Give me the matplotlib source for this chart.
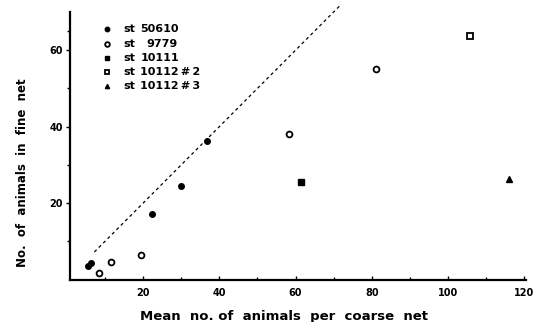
import numpy as np
import matplotlib.pyplot as plt

# station data: mean no. per coarse net (x) vs no. in fine net (y)
st50610_x = [5.6, 6.4, 22.4, 30.0, 36.8]
st50610_y = [3.6, 4.4, 17.2, 24.4, 36.2]
st9779_x = [8.5, 11.5, 19.4, 58.4, 81.1]
st9779_y = [1.8, 4.5, 6.4, 38.2, 55.0]
st10111_x = [61.4]
st10111_y = [25.4]
st10112_2_x = [105.8]
st10112_2_y = [63.8]
st10112_3_x = [116.1]
st10112_3_y = [26.3]

line_x = [7.2, 71.5]  # 1:1 reference line

legend_names = ["50610", "9779", "10111", "10112\u2009#\u20092", "10112\u2009#\u20093"]

plt.rcParams["font.family"] = ["DejaVu Sans"]
plt.rcParams["font.weight"] = "bold"

fig = plt.figure(figsize=(5.42, 3.22), dpi=100)
ax = fig.add_axes([70 / 542, 1 - 279.5 / 322, 456 / 542, 267.5 / 322])

series = [
    (st50610_x, st50610_y, dict(marker="o", mfc="black", mec="black", ms=4.0)),
    (st9779_x, st9779_y, dict(marker="o", mfc="white", mec="black", mew=1.3, ms=4.2)),
    (st10111_x, st10111_y, dict(marker="s", mfc="black", mec="black", ms=3.8)),
    (st10112_2_x, st10112_2_y, dict(marker="s", mfc="white", mec="black", mew=1.3, ms=3.8)),
    (st10112_3_x, st10112_3_y, dict(marker="^", mfc="black", mec="black", ms=3.8)),
]
for xs, ys, style in series:
    ax.plot(xs, ys, ls="none", **style)

ax.plot(line_x, line_x, color="black", ls=(0, (2.5, 2.5)), lw=0.9, clip_on=False)

# hand-drawn style legend
for i, ((xs, ys, style), name) in enumerate(zip(series, legend_names)):
    yy = 0.935 - i * 0.053
    st = dict(style, ms=style["ms"] * 0.8)
    ax.plot([0.082], [yy], transform=ax.transAxes, ls="none", clip_on=False, **st)
    ax.text(0.118, yy, "st", transform=ax.transAxes, fontsize=8,
            fontweight="bold", va="center")
    ax.text(0.154 if name != "9779" else 0.168, yy, name, transform=ax.transAxes,
            fontsize=8, fontweight="bold", va="center")

ax.set_xlim(0.8, 120.5)
ax.set_ylim(0, 70)
ax.set_xticks([20, 40, 60, 80, 100, 120])
ax.set_xticks([10, 30, 50, 70, 90, 110], minor=True)
ax.set_yticks([20, 40, 60])
ax.set_yticks([10, 30, 50, 65], minor=True)

for s in ["top", "right"]:
    ax.spines[s].set_visible(False)
for s in ["left", "bottom"]:
    ax.spines[s].set_linewidth(1.6)

ax.tick_params(axis="x", direction="in", length=3, width=1, labelsize=7, pad=6)
ax.tick_params(axis="x", which="minor", direction="in", length=2, width=1)
ax.tick_params(axis="y", direction="out", length=3, width=1, labelsize=7, pad=2)
ax.tick_params(axis="y", which="minor", direction="out", length=2, width=1)
for lbl in ax.get_xticklabels() + ax.get_yticklabels():
    lbl.set_fontweight("bold")

ax.set_xlabel("Mean  no. of  animals  per  coarse  net", fontsize=9.5,
              fontweight="bold")
ax.set_ylabel("No.  of  animals  in  fine  net", fontsize=8.5,
              fontweight="bold")
ax.xaxis.set_label_coords(0.47, -0.115)
ax.yaxis.set_label_coords(-0.09, 0.40)

fig.savefig("out.png", dpi=100)
